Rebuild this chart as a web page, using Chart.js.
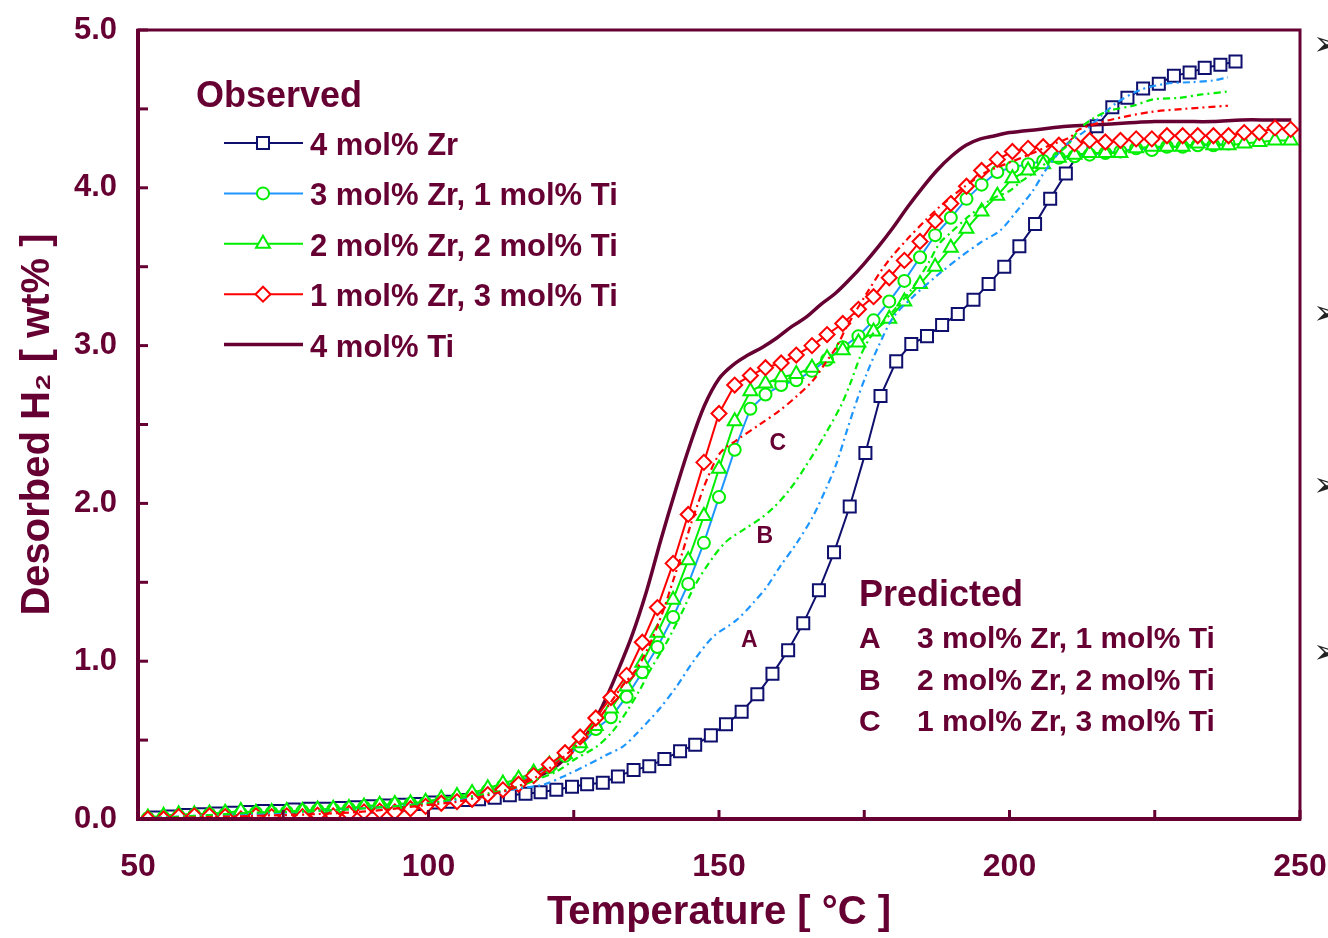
<!DOCTYPE html>
<html><head><meta charset="utf-8">
<script src="https://cdn.jsdelivr.net/npm/chart.js@4/dist/chart.umd.min.js"></script>
<style>html,body{margin:0;padding:0;background:#fff;overflow:hidden}#wrap{position:relative;width:1328px;height:938px}</style>
</head><body><div id="wrap"><canvas id="c" width="1328" height="938"></canvas></div>
<script>
// ---------- data ----------
const temps = [51.7,54.4,57.0,59.7,62.3,65.0,67.7,70.3,73.0,75.6,78.3,80.9,83.6,86.3,88.9,91.6,94.2,96.9,99.5,102.2,104.9,107.5,110.2,112.8,115.5,118.1,120.8,123.5,126.1,128.8,131.4,134.1,136.8,139.4,142.1,144.7,147.4,150.0,152.7,155.4,158.0,160.7,163.3,166.0,168.6,171.3,174.0,176.6,179.3,181.9,184.6,187.2,189.9,192.6,195.2,197.9,200.5,203.2,205.8,208.5,211.2,213.8,216.5,219.1,221.8,224.5,227.1,229.8,232.4,235.1,237.7,240.4,243.0,245.7,248.4];
const tempsZr = [52.9,55.6,58.2,60.9,63.5,66.2,68.9,71.5,74.2,76.8,79.5,82.1,84.8,87.5,90.1,92.8,95.4,98.1,100.7,103.4,106.1,108.7,111.4,114.0,116.7,119.3,122.0,124.7,127.3,130.0,132.6,135.3,138.0,140.6,143.3,145.9,148.6,151.2,153.9,156.6,159.2,161.9,164.5,167.2,169.8,172.5,175.2,177.8,180.5,183.1,185.8,188.4,191.1,193.8,196.4,199.1,201.7,204.4,207.0,209.7,212.4,215.0,217.7,220.3,223.0,225.7,228.3,231.0,233.6,236.3,238.9];
const zr4 = [0.01,0.015,0.025,0.03,0.035,0.04,0.045,0.05,0.05,0.06,
  0.065,0.065,0.07,0.075,0.08,0.085,0.09,0.095,0.105,0.11,
  0.12,0.125,0.135,0.15,0.16,0.17,0.185,0.205,0.22,0.23,
  0.27,0.31,0.335,0.38,0.43,0.47,0.53,0.60,0.68,0.79,
  0.92,1.07,1.24,1.45,1.69,1.98,2.32,2.68,2.90,3.01,
  3.06,3.13,3.20,3.29,3.39,3.50,3.63,3.77,3.93,4.09,
  4.25,4.39,4.51,4.57,4.63,4.66,4.71,4.73,4.76,4.78,4.80];
const zr3ti1 = [0.005,0.01,0.02,0.025,0.03,0.03,0.035,0.04,0.04,0.045,
  0.05,0.055,0.06,0.065,0.075,0.085,0.09,0.095,0.10,0.115,
  0.13,0.15,0.18,0.21,0.24,0.28,0.33,0.40,0.46,0.57,
  0.645,0.775,0.93,1.09,1.28,1.49,1.75,2.04,2.34,2.60,
  2.69,2.75,2.78,2.84,2.91,2.99,3.06,3.16,3.28,3.41,
  3.56,3.70,3.81,3.93,4.02,4.10,4.13,4.15,4.17,4.19,
  4.20,4.21,4.22,4.23,4.25,4.24,4.26,4.26,4.27,4.27,
  4.28,null,null,null,null];
const zr2ti2 = [0.01,0.02,0.03,0.03,0.035,0.04,0.05,0.04,0.045,0.05,
  0.05,0.06,0.065,0.07,0.08,0.09,0.095,0.10,0.11,0.13,
  0.145,0.165,0.195,0.225,0.255,0.295,0.345,0.41,0.48,0.59,
  0.70,0.84,0.99,1.18,1.39,1.64,1.92,2.22,2.52,2.71,
  2.76,2.80,2.82,2.86,2.92,2.97,3.02,3.09,3.17,3.28,
  3.39,3.50,3.62,3.74,3.85,3.95,4.06,4.11,4.15,4.19,
  4.21,4.22,4.22,4.22,4.25,4.26,4.26,4.26,4.28,4.27,
  4.27,4.28,4.29,4.30,4.30];
const zr1ti3 = [0.00,0.00,0.015,0.02,0.02,0.015,0.00,0.02,0.015,0.02,
  0.015,0.025,0.02,0.035,0.045,0.05,0.045,0.065,0.08,0.10,
  0.11,0.125,0.155,0.185,0.22,0.275,0.345,0.42,0.52,0.64,
  0.77,0.91,1.12,1.34,1.62,1.93,2.26,2.57,2.75,2.81,
  2.86,2.89,2.94,3.00,3.07,3.14,3.23,3.31,3.43,3.54,
  3.66,3.79,3.90,4.01,4.11,4.18,4.23,4.25,4.26,4.27,
  4.28,4.30,4.29,4.30,4.31,4.31,4.33,4.33,4.33,4.33,
  4.33,4.35,4.35,4.38,4.37];
const tempsTi = [50,60,70,80,90,100,105,110,115,120,122.5,125,127.5,130,132.5,135,137.5,140,142.5,145,147.5,150,152.5,155,157.5,160,162.5,165,167.5,170,172.5,175,177.5,180,182.5,185,187.5,190,192.5,195,197.5,200,205,210,215,220,225,230,235,240,245,248.5];
const ti4 = [0.00,0.01,0.02,0.03,0.05,0.09,0.11,0.15,0.21,0.29,0.35,0.44,0.55,0.72,0.93,1.16,1.44,1.77,2.08,2.37,2.62,2.79,2.88,2.94,2.99,3.05,3.12,3.18,3.26,3.33,3.42,3.52,3.63,3.75,3.88,4.00,4.11,4.20,4.27,4.31,4.33,4.35,4.37,4.39,4.40,4.41,4.42,4.42,4.42,4.43,4.43,4.43];
const tempsA = [50,60,70,80,90,100,105,110,115,120,123.8,127.2,130.6,133.5,135.8,138.1,139.8,142.7,145.6,149,153,155.9,158.2,160.5,163.4,166.2,168.5,170.2,172,173.7,175.4,177.5,180,183.4,187.4,191.5,194.9,198.4,201.2,204,206,208,210,213,215.6,218.5,222.5,227,231.6,235,237.6];
const predA = [0.0,0.02,0.03,0.05,0.07,0.10,0.12,0.15,0.19,0.22,0.28,0.34,0.405,0.46,0.54,0.63,0.70,0.84,1.0,1.155,1.26,1.37,1.47,1.60,1.75,1.92,2.10,2.25,2.46,2.65,2.82,3.0,3.18,3.31,3.44,3.56,3.65,3.73,3.85,3.98,4.10,4.20,4.28,4.36,4.45,4.54,4.62,4.66,4.67,4.68,4.70];
const tempsB = [50,60,70,80,90,100,105,110,115,118.6,122,125.5,129,131.8,134.1,136.4,138.1,141,143.5,146,149,151.3,154.5,157,159.3,162,165,168,171,172.6,174.3,176,178,180,183,186,188,190,193,197,200,202,204,207,210,212,214.4,217.3,221.3,224.7,229.3,232.8,237.6];
const predB = [0.0,0.02,0.04,0.05,0.07,0.10,0.13,0.16,0.20,0.25,0.30,0.385,0.46,0.56,0.68,0.82,0.94,1.12,1.30,1.49,1.66,1.76,1.84,1.90,1.97,2.08,2.24,2.42,2.62,2.76,2.93,3.05,3.14,3.22,3.35,3.52,3.65,3.72,3.82,3.93,3.98,4.04,4.09,4.18,4.27,4.37,4.44,4.49,4.52,4.56,4.57,4.59,4.61];
const tempsC = [50,60,70,80,90,100,105,110,115,120,125,128,131,133.5,135.8,138,140.4,142.1,143.8,145,146.2,147.9,150.2,153,157,160.5,163.4,166.2,168.5,170.2,172,175.4,178.8,182.3,185.7,188,192,196,200,204,207,210.4,212,217.3,224.2,230,237.6];
const predC = [0.0,0.01,0.02,0.03,0.05,0.09,0.11,0.15,0.20,0.30,0.45,0.57,0.72,0.85,0.95,1.10,1.32,1.51,1.70,1.85,1.98,2.15,2.32,2.40,2.50,2.59,2.68,2.78,2.90,2.99,3.12,3.33,3.52,3.67,3.80,3.88,4.00,4.10,4.16,4.22,4.27,4.32,4.37,4.43,4.48,4.50,4.52];
const xTicks = [50,100,150,200,250];
const yTicks = [0,1,2,3,4,5];
const observedLabels = ['4 mol% Zr','3 mol% Zr, 1 mol% Ti','2 mol% Zr, 2 mol% Ti','1 mol% Zr, 3 mol% Ti','4 mol% Ti'];
const predictedLetters = ['A','B','C'];
const predictedLabels = ['3 mol% Zr, 1 mol% Ti','2 mol% Zr, 2 mol% Ti','1 mol% Zr, 3 mol% Ti'];
const predictedTags = [{t:'A',x:155.2,y:1.13},{t:'B',x:157.9,y:1.79},{t:'C',x:160.1,y:2.38}];

// ---------- styles ----------
const MAROON='#660033', NAVY='#0f0f6e', BLUE='#1e96ff', LIME='#00ee00', RED='#ff0000';
const FONT='"Liberation Sans", Arial, Helvetica, sans-serif';
function pts(xs, ys){ return xs.map((x,i)=>({x:x, y:ys[i]})).filter(p=>p.y!==null); }
const dash=[7,4,2,4];

const datasets = [
  {data:pts(tempsC,predC), borderColor:RED, borderWidth:2.2, borderDash:dash, pointRadius:0, tension:0.3},
  {data:pts(tempsB,predB), borderColor:LIME, borderWidth:2.2, borderDash:dash, pointRadius:0, tension:0.3},
  {data:pts(tempsA,predA), borderColor:BLUE, borderWidth:2.2, borderDash:dash, pointRadius:0, tension:0.3},
  {data:pts(temps,zr1ti3), borderColor:RED, borderWidth:2, pointStyle:'rectRot', pointRadius:7.5, pointBorderWidth:2, pointBorderColor:RED, pointBackgroundColor:'#fff', tension:0},
  {data:pts(temps,zr2ti2), borderColor:LIME, borderWidth:2, pointStyle:'triangle', pointRadius:8, pointBorderWidth:2, pointBorderColor:LIME, pointBackgroundColor:'#fff', tension:0},
  {data:pts(temps,zr3ti1), borderColor:BLUE, borderWidth:2, pointStyle:'circle', pointRadius:6, pointBorderWidth:2, pointBorderColor:LIME, pointBackgroundColor:'#fff', tension:0},
  {data:pts(tempsTi,ti4), borderColor:MAROON, borderWidth:3.5, pointRadius:0, tension:0.35},
  {data:pts(tempsZr,zr4), borderColor:NAVY, borderWidth:2, pointStyle:'rect', pointRadius:8.5, pointBorderWidth:2, pointBorderColor:NAVY, pointBackgroundColor:'#fff', tension:0}
];

function marker(ctx, style, x, y, r, stroke){
  ctx.save(); ctx.fillStyle='#fff'; ctx.strokeStyle=stroke; ctx.lineWidth=2; ctx.beginPath();
  if(style==='rect'){ const s=Math.SQRT1_2*r; ctx.rect(x-s,y-s,2*s,2*s); }
  else if(style==='circle'){ ctx.arc(x,y,r,0,Math.PI*2); }
  else if(style==='triangle'){ ctx.moveTo(x,y-r); ctx.lineTo(x+r*0.866,y+r*0.5); ctx.lineTo(x-r*0.866,y+r*0.5); ctx.closePath(); }
  else if(style==='rectRot'){ ctx.moveTo(x,y-r); ctx.lineTo(x+r,y); ctx.lineTo(x,y+r); ctx.lineTo(x-r,y); ctx.closePath(); }
  ctx.fill(); ctx.stroke(); ctx.restore();
}

const decor = {
  id:'decor',
  afterDraw(chart){
    const {ctx, chartArea:a, scales:{x,y}} = chart;
    ctx.save();
    ctx.strokeStyle=MAROON; ctx.lineCap='butt';
    ctx.lineWidth=3;
    y.ticks.forEach(t=>{ const py=y.getPixelForValue(t.value); ctx.beginPath(); ctx.moveTo(a.left,py); ctx.lineTo(a.left+10,py); ctx.stroke(); });
    x.ticks.forEach(t=>{ const px=x.getPixelForValue(t.value); ctx.beginPath(); ctx.moveTo(px,a.bottom); ctx.lineTo(px,a.bottom-9); ctx.stroke(); });
    ctx.lineWidth=3; ctx.strokeRect(a.left, a.top, a.right-a.left, a.bottom-a.top);
    ctx.lineWidth=4; ctx.beginPath(); ctx.moveTo(a.left, a.top-1); ctx.lineTo(a.left, a.bottom); ctx.lineTo(a.right+1, a.bottom); ctx.stroke();

    // observed legend
    ctx.fillStyle=MAROON; ctx.textBaseline='alphabetic'; ctx.textAlign='left';
    ctx.font='bold 36px '+FONT;
    ctx.fillText('Observed', a.left+58, a.top+77);
    const lx0=a.left+86, lx1=a.left+165, lmx=a.left+125, ltx=a.left+172;
    const legStyles=[[NAVY,'rect',8.5,NAVY,2],[BLUE,'circle',6,LIME,2],[LIME,'triangle',8,LIME,2],[RED,'rectRot',7.5,RED,2],[MAROON,null,0,null,3.5]];
    ctx.font='bold 31px '+FONT;
    legStyles.forEach((s,i)=>{
      const ly=a.top+113+i*50.4;
      ctx.strokeStyle=s[0]; ctx.lineWidth=s[4]; ctx.beginPath(); ctx.moveTo(lx0,ly); ctx.lineTo(lx1,ly); ctx.stroke();
      if(s[1]) marker(ctx,s[1],lmx,ly,s[2],s[3]);
      ctx.fillStyle=MAROON; ctx.fillText(observedLabels[i], ltx, ly+12);
    });

    // predicted block
    ctx.font='bold 36px '+FONT; ctx.fillStyle=MAROON;
    ctx.fillText('Predicted', a.left+721, a.top+576);
    ctx.font='bold 30px '+FONT;
    predictedLabels.forEach((s,i)=>{
      const by=a.top+618+i*41.5;
      ctx.fillText(predictedLetters[i], a.left+721, by);
      ctx.fillText(s, a.left+779, by);
    });
    ctx.font='bold 23px '+FONT; ctx.textAlign='center'; ctx.textBaseline='middle';
    predictedTags.forEach(p=>{ ctx.fillText(p.t, x.getPixelForValue(p.x), y.getPixelForValue(p.y)); });

    // slide bullets cut at right edge
    ctx.fillStyle='#222'; ctx.textAlign='left'; ctx.font='34px "DejaVu Sans", sans-serif';
    [46,315,487,654].forEach(by=>ctx.fillText('\u27A2', 1313, by));
    ctx.restore();
  }
};

new Chart(document.getElementById('c'), {
  type:'line',
  data:{datasets:datasets},
  options:{
    responsive:false, animation:false, events:[],
    layout:{padding:{top:30,right:28,left:0,bottom:0}},
    plugins:{legend:{display:false}, tooltip:{enabled:false}},
    scales:{
      x:{type:'linear', min:50, max:250,
        afterFit:(s)=>{ s.height=119; s.paddingLeft=0; s.paddingRight=0; },
        grid:{display:false, drawTicks:false},
        border:{display:false},
        ticks:{stepSize:25, padding:29, color:MAROON, font:{family:FONT, size:32, weight:'bold'},
          callback:(v)=> xTicks.includes(v) ? String(v) : ''},
        title:{display:true, text:'Temperature [ \u00B0C ]', color:MAROON, font:{family:FONT, size:40, weight:'bold'}, padding:{bottom:1}}
      },
      y:{type:'linear', min:0, max:5,
        afterFit:(s)=>{ s.width=138; s.paddingTop=0; s.paddingBottom=0; },
        grid:{display:false, drawTicks:false},
        border:{display:false},
        ticks:{stepSize:0.5, padding:21, color:MAROON, font:{family:FONT, size:31, weight:'bold'},
          callback:(v)=> yTicks.includes(v) ? v.toFixed(1) : ''},
        title:{display:true, text:'Desorbed H\u2082 [ wt% ]', color:MAROON, font:{family:FONT, size:40, weight:'bold'}, padding:{top:14}}
      }
    }
  },
  plugins:[decor]
});
</script></body></html>
